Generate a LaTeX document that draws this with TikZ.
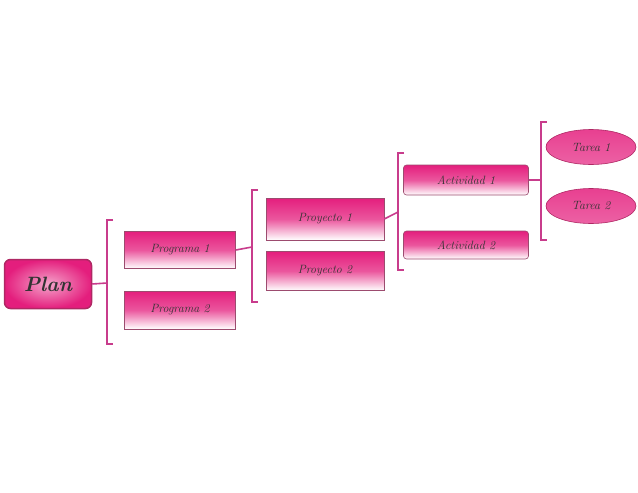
\documentclass[tikz,border=0pt]{standalone}
\usetikzlibrary{shapes.geometric}
\definecolor{pk}{RGB}{228,30,125}
\definecolor{pkd}{RGB}{175,40,100}
\definecolor{br}{RGB}{200,60,140}
\begin{document}
\begin{tikzpicture}[x=1pt,y=-1pt,
  bx/.style={draw=pkd!60!gray,line width=0.6pt,top color=pk,bottom color=white,middle color=pk!75,minimum width=#1,inner sep=0pt,font=\itshape\large,text=black!80},
  bx/.default=111pt,
  el/.style={ellipse,draw=pkd,line width=0.6pt,top color=pk!85,bottom color=pk!70!white,minimum width=90pt,minimum height=35pt,inner sep=0pt,font=\itshape\large,text=black!80},
  brk/.style={draw=br,line width=1.6pt}]
\useasboundingbox (0,0) rectangle (638,493);
\node[bx=87pt,rounded corners=6pt,minimum height=49pt,draw=pkd,line width=1.5pt,font=\itshape\bfseries\huge,inner color=pk!40,outer color=pk] (plan) at (48,284) {Plan};
\node[bx,minimum height=37pt] (pg1) at (180,250) {Programa 1};
\node[bx,minimum height=38pt] (pg2) at (180,310) {Programa 2};
\node[bx=118pt,minimum height=42pt] (py1) at (325,219) {Proyecto 1};
\node[bx=118pt,minimum height=39pt] (py2) at (325,271) {Proyecto 2};
\node[bx=125pt,minimum height=30pt,rounded corners=3pt] (a1) at (466,180) {Actividad 1};
\node[bx=125pt,minimum height=28pt,rounded corners=3pt] (a2) at (466,245) {Actividad 2};
\node[el] (t1) at (591,147) {Tarea 1};
\node[el] (t2) at (591,206) {Tarea 2};
% brackets
\coordinate (b1) at (107,283);
\draw[brk] (113,220) -- (107,220) -- (107,344) -- (113,344);
\draw[brk] (plan.east) -- (b1);
\coordinate (b2) at (252,247);
\draw[brk] (258,190) -- (252,190) -- (252,302) -- (258,302);
\draw[brk] (pg1.east) -- (b2);
\coordinate (b3) at (398,212);
\draw[brk] (404,153) -- (398,153) -- (398,270) -- (404,270);
\draw[brk] (py1.east) -- (b3);
\coordinate (b4) at (541,180);
\draw[brk] (547,122) -- (541,122) -- (541,240) -- (547,240);
\draw[brk] (a1.east) -- (b4);
\end{tikzpicture}
\end{document}
